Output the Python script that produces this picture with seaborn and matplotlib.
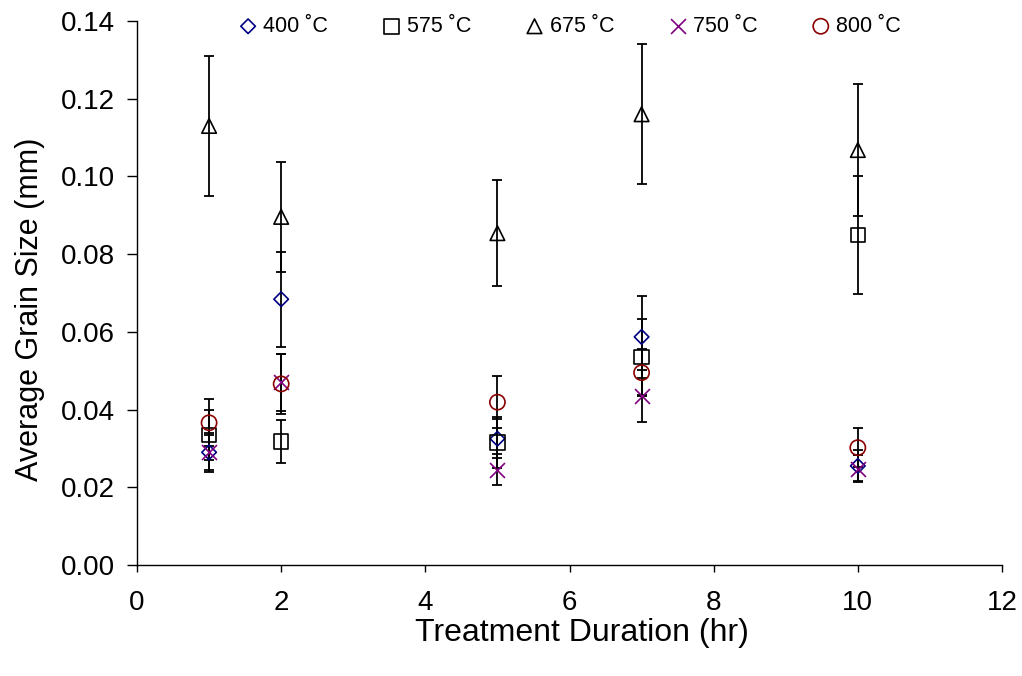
import matplotlib
matplotlib.use("Agg")
import matplotlib.pyplot as plt
import seaborn as sns
import pandas as pd

durations = [1, 2, 5, 7, 10]
series_names = ["400 ˚C", "575 ˚C", "675 ˚C", "750 ˚C", "800 ˚C"]
grain_400 = [0.0290, 0.0684, 0.0325, 0.0587, 0.0255]
grain_575 = [0.0335, 0.0318, 0.0315, 0.0535, 0.0849]
grain_675 = [0.1130, 0.0896, 0.0854, 0.1160, 0.1068]
grain_750 = [0.0290, 0.0470, 0.0245, 0.0435, 0.0248]
grain_800 = [0.0366, 0.0466, 0.0419, 0.0495, 0.0302]
err_400 = [0.0050, 0.0122, 0.0050, 0.0105, 0.0040]
err_575 = [0.0065, 0.0055, 0.0065, 0.0098, 0.0152]
err_675 = [0.0180, 0.0141, 0.0136, 0.0180, 0.0170]
err_750 = [0.0045, 0.0073, 0.0040, 0.0068, 0.0035]
err_800 = [0.0060, 0.0077, 0.0067, 0.0060, 0.0050]

values = [grain_400, grain_575, grain_675, grain_750, grain_800]
errors = [err_400, err_575, err_675, err_750, err_800]
markers = ["D", "s", "^", "x", "o"]
colors = ["#000080", "#000000", "#000000", "#800080", "#8B0000"]
sizes = [55, 110, 110, 115, 120]

rows = []
for name, v, e in zip(series_names, values, errors):
    for d, val, er in zip(durations, v, e):
        rows.append({"Duration": d, "Grain": val, "Err": er, "Series": name})
df = pd.DataFrame(rows)

sns.set_theme(style="white")
plt.rcParams["font.family"] = ["Liberation Sans", "DejaVu Sans"]
plt.rcParams["text.color"] = "black"
plt.rcParams["axes.labelcolor"] = "black"
plt.rcParams["xtick.color"] = "black"
plt.rcParams["ytick.color"] = "black"

fig = plt.figure(figsize=(10.22, 6.76), dpi=100)
ax = fig.add_axes([137 / 1022, 1 - 565 / 676, (1002 - 137) / 1022, (565 - 21) / 676])

for name in series_names:
    sub = df[df["Series"] == name]
    ax.errorbar(sub["Duration"], sub["Grain"], yerr=sub["Err"], fmt="none",
                ecolor="black", elinewidth=1.3, capsize=3.6, capthick=1.3, zorder=1)
for name, m, c, s in zip(series_names, markers, colors, sizes):
    sub = df[df["Series"] == name]
    if m == "x":
        sns.scatterplot(data=sub, x="Duration", y="Grain", marker=m, color=c,
                        s=s, linewidth=1.2, ax=ax, label=name, zorder=3)
    else:
        sns.scatterplot(data=sub, x="Duration", y="Grain", marker=m, s=s,
                        facecolor="none", edgecolor=c, linewidth=1.2, ax=ax,
                        label=name, zorder=3)

ax.set_xlim(0, 12)
ax.set_ylim(0, 0.14)
ax.set_xticks(range(0, 13, 2))
yt = [0, 0.02, 0.04, 0.06, 0.08, 0.10, 0.12, 0.14]
ax.set_yticks(yt)
ax.set_yticklabels([f"{t:.2f}" for t in yt])
ax.tick_params(axis="both", labelsize=20, width=1, direction="out",
               left=True, bottom=True, colors="black")
ax.tick_params(axis="y", length=7, pad=9)
ax.tick_params(axis="x", length=5, pad=13)
ax.set_xlabel("Treatment Duration (hr)", fontsize=23)
ax.set_ylabel("Average Grain Size (mm)", fontsize=22)
ax.xaxis.set_label_coords(0.514, -0.097)
ax.yaxis.set_label_coords(-0.106, 0.47)
for sp in ["top", "right"]:
    ax.spines[sp].set_visible(False)
for sp in ["left", "bottom"]:
    ax.spines[sp].set_color("black")
    ax.spines[sp].set_linewidth(1)

leg = ax.legend(loc="upper center", bbox_to_anchor=(0.5, 1.045), ncol=5,
                frameon=False, fontsize=15.5, handletextpad=0.25,
                handlelength=0.9, columnspacing=2.5)

fig.savefig("out.png", dpi=100)
